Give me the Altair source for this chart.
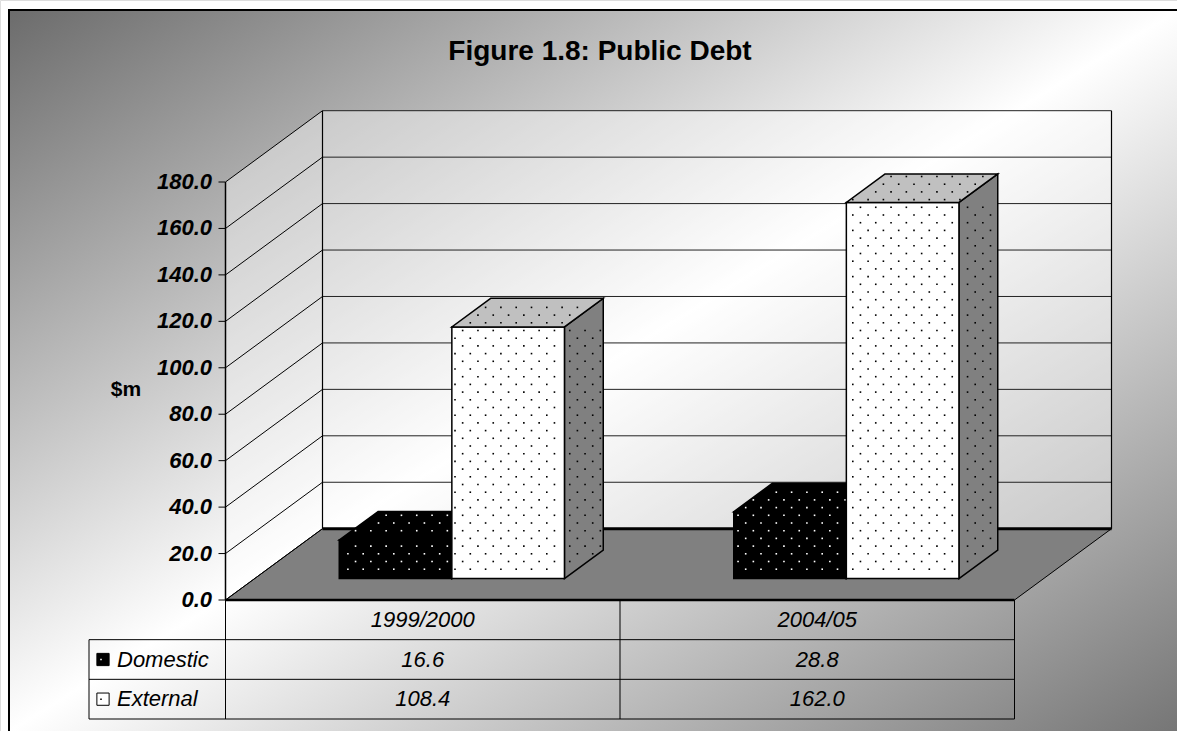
import altair as alt
import numpy as np
import pandas as pd

# ---------------- data ----------------
categories = ["1999/2000", "2004/05"]
series_names = ["Domestic", "External"]
domestic = [16.6, 28.8]
external = [108.4, 162.0]
y_ticks = [0, 20, 40, 60, 80, 100, 120, 140, 160, 180]
chart_title = "Figure 1.8: Public Debt"
y_title = "$m"

FONT = "Liberation Sans"

# ---------------- layout / style ----------------
W, H = 1177, 731
XPX = (225.5, 1014.5)          # pixel span of the front plane (2 category units)
YPX = (600, 182)               # pixel span of 0..180 on the front plane
UX = (XPX[1] - XPX[0]) / 2     # px per category unit
UY = (YPX[0] - YPX[1]) / 180   # px per value unit
DX = 97 / UX                   # depth of the 3-D box, x units
DY = 71.3 / UY                 # depth of the 3-D box, value units
F0, F1 = 0.30, 0.70            # front / back of the bars as share of the depth
BW = 112.6 / UX                # bar width in category units
LEG_LEFT = (89 - XPX[0]) / UX  # left edge of the data-table legend column
SX, SY = 7.65 / UX, 7.7 / UY   # spacing of the dotted fill pattern
INSET_X, INSET_Y = 2.5 / UX, 2.5 / UY

XS = alt.Scale(domain=[0, 2], range=list(XPX), nice=False, zero=False)
YS = alt.Scale(domain=[0, 180], range=list(YPX), nice=False, zero=False)
TS = alt.Scale(domain=[0, 3], range=[600, 719], nice=False, zero=False)

# ---------------- derived tables ----------------
values = {"Domestic": domestic, "External": external}
ddx, ddy = (F1 - F0) * DX, (F1 - F0) * DY


def lattice(xmin, xmax, ymin, ymax):
    a0, a1 = int(np.floor(xmin / SX)), int(np.ceil(xmax / SX))
    b0, b1 = int(np.floor(ymin / SY)), int(np.ceil(ymax / SY))
    return [(a * SX, b * SY) for a in range(a0, a1 + 1)
            for b in range(b0, b1 + 1) if (a + b) % 2 == 0]


front, top, side, dots = [], [], [], []
for i, cat in enumerate(categories):
    for k, s in enumerate(series_names):
        v = values[s][i]
        bid = f"{s} {cat}"
        x0 = i + 0.5 + F0 * DX + (k - 1) * BW
        x1 = x0 + BW
        y0 = F0 * DY
        front.append(dict(id=bid, series=s, x0=x0, x1=x1, y0=y0, y1=y0 + v))
        top.append(dict(id=bid, series=s, y=y0 + v, xa=x0, xb=x1))
        top.append(dict(id=bid, series=s, y=y0 + v + ddy, xa=x0 + ddx, xb=x1 + ddx))
        side.append(dict(id=bid, series=s, x=x1, ya=y0, yb=y0 + v))
        side.append(dict(id=bid, series=s, x=x1 + ddx, ya=y0 + ddy, yb=y0 + v + ddy))
        # dotted pattern (screen aligned), clipped to the visible faces
        for (px, py) in lattice(x0, x1 + ddx, y0, y0 + v + ddy):
            inside = False
            if x0 + INSET_X <= px <= x1 - INSET_X and y0 + INSET_Y <= py <= y0 + v - INSET_Y:
                inside = True
            elif y0 + v + INSET_Y <= py <= y0 + v + ddy - INSET_Y:
                t = (py - y0 - v) / ddy
                if x0 + t * ddx + INSET_X <= px <= x1 + t * ddx - INSET_X:
                    inside = True
            elif x1 + INSET_X <= px <= x1 + ddx - INSET_X:
                t = (px - x1) / ddx
                if y0 + t * ddy + INSET_Y <= py <= y0 + v + t * ddy - INSET_Y:
                    inside = True
            if inside:
                dots.append(dict(series=s, x=px, y=py))
front_df, top_df, side_df = pd.DataFrame(front), pd.DataFrame(top), pd.DataFrame(side)
dots_df = pd.DataFrame(dots)

grid_df = pd.DataFrame({"v": y_ticks})
grid_df["xa"] = 0.0
grid_df["xb"] = DX
grid_df["xc"] = 2 + DX
grid_df["yb"] = grid_df["v"] + DY
grid_df["lab"] = [f"{v:.1f}" for v in y_ticks]
grid_df["tx"] = -7 / UX
grid_df["lx"] = -13.5 / UX

floor_df = pd.DataFrame({"y": [0, DY], "xa": [0, DX], "xb": [2, 2 + DX]})
side_wall_df = pd.DataFrame({"x": [0, DX], "ya": [0, DY], "yb": [180, 180 + DY]})
back_wall_df = pd.DataFrame({"xa": [DX], "xb": [2 + DX], "ya": [DY], "yb": [180 + DY]})

one = pd.DataFrame({"t": [chart_title], "yt": [y_title]})

# ---------------- background & frame ----------------
grad = alt.LinearGradient(
    gradient="linear",
    stops=[alt.GradientStop(color="#6c6c6c", offset=0),
           alt.GradientStop(color="#ffffff", offset=0.5),
           alt.GradientStop(color="#767676", offset=1)],
    x1=0, y1=0, x2=1, y2=1)
background = alt.Chart(one).mark_rect(color=grad).encode(
    x=alt.value(10), x2=alt.value(W), y=alt.value(11), y2=alt.value(H))
frame_left = alt.Chart(one).mark_rule(color="black", strokeWidth=2).encode(
    x=alt.value(9), y=alt.value(9), y2=alt.value(H))
frame_top = alt.Chart(one).mark_rule(color="black", strokeWidth=2).encode(
    x=alt.value(9), x2=alt.value(W), y=alt.value(10))

title = alt.Chart(one).mark_text(font=FONT, fontSize=28, fontWeight="bold",
                                 align="center", baseline="alphabetic", color="black").encode(
    x=alt.value(600), y=alt.value(60), text="t:N")
ytitle = alt.Chart(one).mark_text(font=FONT, fontSize=21, fontWeight="bold",
                                  align="center", baseline="middle", color="black").encode(
    x=alt.value(126), y=alt.value(390), text="yt:N")

# ---------------- 3-D box ----------------
side_wall = alt.Chart(side_wall_df).mark_area(orient="vertical", fill="white", fillOpacity=0.4).encode(
    x=alt.X("x:Q", scale=XS, axis=None),
    y=alt.Y("ya:Q", scale=YS, axis=None, stack=None), y2="yb:Q")
back_wall = alt.Chart(back_wall_df).mark_rect(fill="white", fillOpacity=0.4).encode(
    x=alt.X("xa:Q", scale=XS, axis=None), x2="xb:Q",
    y=alt.Y("ya:Q", scale=YS, axis=None), y2="yb:Q")
floor = alt.Chart(floor_df).mark_area(orient="horizontal", fill="#808080",
                                      stroke="black", strokeWidth=1).encode(
    y=alt.Y("y:Q", scale=YS, axis=None),
    x=alt.X("xa:Q", scale=XS, axis=None, stack=None), x2="xb:Q")

side_grid = alt.Chart(grid_df).mark_rule(color="black", strokeWidth=1).encode(
    x=alt.X("xa:Q", scale=XS, axis=None), x2="xb:Q",
    y=alt.Y("v:Q", scale=YS, axis=None), y2="yb:Q")
back_grid = alt.Chart(grid_df).mark_rule(color="#222222", strokeWidth=1).encode(
    x=alt.X("xb:Q", scale=XS, axis=None), x2="xc:Q",
    y=alt.Y("yb:Q", scale=YS, axis=None))
back_bottom = alt.Chart(grid_df[grid_df.v == 0]).mark_rule(color="black", strokeWidth=3).encode(
    x=alt.X("xb:Q", scale=XS, axis=None), x2="xc:Q",
    y=alt.Y("yb:Q", scale=YS, axis=None))
wall_edges = alt.Chart(pd.DataFrame({"x": [DX, 2 + DX], "ya": [DY, DY], "yb": [180 + DY, 180 + DY]})).mark_rule(
    color="black", strokeWidth=1.2).encode(
    x=alt.X("x:Q", scale=XS, axis=None),
    y=alt.Y("ya:Q", scale=YS, axis=None), y2="yb:Q")

# value axis drawn from the tick list through the value scale
axis_line = alt.Chart(pd.DataFrame({"x": [0], "ya": [0], "yb": [180]})).mark_rule(
    color="black", strokeWidth=1.5).encode(
    x=alt.X("x:Q", scale=XS, axis=None),
    y=alt.Y("ya:Q", scale=YS, axis=None), y2="yb:Q")
axis_ticks = alt.Chart(grid_df).mark_rule(color="black", strokeWidth=1).encode(
    x=alt.X("tx:Q", scale=XS, axis=None), x2="xa:Q",
    y=alt.Y("v:Q", scale=YS, axis=None))
axis_labels = alt.Chart(grid_df).mark_text(font=FONT, fontSize=22, fontWeight="bold",
                                           fontStyle="italic", align="right",
                                           baseline="middle", color="black").encode(
    x=alt.X("lx:Q", scale=XS, axis=None),
    y=alt.Y("v:Q", scale=YS, axis=None), text="lab:N")

# ---------------- bars ----------------
FILL = {"Domestic": ("#000000", "#000000", "#333333", "#ffffff"),
        "External": ("#ffffff", "#c0c0c0", "#808080", "#000000")}
bar_layers = []
for s in series_names:
    ff, tf, sf, dc = FILL[s]
    bar_layers.append(alt.Chart(side_df[side_df.series == s]).mark_area(
        orient="vertical", fill=sf, stroke="black", strokeWidth=1.5).encode(
        x=alt.X("x:Q", scale=XS, axis=None),
        y=alt.Y("ya:Q", scale=YS, axis=None, stack=None), y2="yb:Q",
        detail="id:N"))
    bar_layers.append(alt.Chart(front_df[front_df.series == s]).mark_rect(
        fill=ff, stroke="black", strokeWidth=1.5).encode(
        x=alt.X("x0:Q", scale=XS, axis=None), x2="x1:Q",
        y=alt.Y("y0:Q", scale=YS, axis=None), y2="y1:Q"))
    bar_layers.append(alt.Chart(top_df[top_df.series == s]).mark_area(
        orient="horizontal", fill=tf, stroke="black", strokeWidth=1.5).encode(
        y=alt.Y("y:Q", scale=YS, axis=None),
        x=alt.X("xa:Q", scale=XS, axis=None, stack=None), x2="xb:Q",
        detail="id:N"))
    bar_layers.append(alt.Chart(dots_df[dots_df.series == s]).mark_square(
        size=2.6, color=dc, opacity=1).encode(
        x=alt.X("x:Q", scale=XS, axis=None),
        y=alt.Y("y:Q", scale=YS, axis=None)))

# ---------------- data table ----------------
cells = []
for i, cat in enumerate(categories):
    cells.append(dict(col=i + 0.5, row=0.5, text=cat))
    cells.append(dict(col=i + 0.5, row=1.5, text=f"{domestic[i]:.1f}"))
    cells.append(dict(col=i + 0.5, row=2.5, text=f"{external[i]:.1f}"))
cells_df = pd.DataFrame(cells)
table_text = alt.Chart(cells_df).mark_text(font=FONT, fontSize=22, fontStyle="italic",
                                           align="center", baseline="middle", color="black").encode(
    x=alt.X("col:Q", scale=XS, axis=None),
    y=alt.Y("row:Q", scale=TS, axis=None), text="text:N")

leg_df = pd.DataFrame({"series": series_names, "row": [1.5, 2.5]})
leg_text = alt.Chart(leg_df).mark_text(font=FONT, fontSize=22, fontStyle="italic",
                                       align="left", baseline="middle", color="black").encode(
    x=alt.value(117), y=alt.Y("row:Q", scale=TS, axis=None), text="series:N")
leg_sym = alt.Chart(leg_df).mark_square(size=150, opacity=1, stroke="black", strokeWidth=1).encode(
    x=alt.value(103), y=alt.Y("row:Q", scale=TS, axis=None),
    fill=alt.Fill("series:N", scale=alt.Scale(domain=series_names, range=["#000000", "#ffffff"]),
                  legend=None))
leg_dot = alt.Chart(leg_df).mark_square(size=2.5, opacity=1).encode(
    x=alt.value(101), y=alt.Y("row:Q", scale=TS, axis=None),
    fill=alt.Fill("series:N", scale=alt.Scale(domain=series_names, range=["#ffffff", "#000000"]),
                  legend=None))

hl_df = pd.DataFrame({"row": [1, 2, 3], "xa": [LEG_LEFT] * 3, "xb": [2, 2, 2]})
hlines = alt.Chart(hl_df).mark_rule(color="black", strokeWidth=1).encode(
    x=alt.X("xa:Q", scale=XS, axis=None), x2="xb:Q",
    y=alt.Y("row:Q", scale=TS, axis=None))
vl_df = pd.DataFrame({"col": [0, 1, 2, LEG_LEFT], "ra": [0, 0, 0, 1], "rb": [3, 3, 3, 3]})
vlines = alt.Chart(vl_df).mark_rule(color="black", strokeWidth=1).encode(
    x=alt.X("col:Q", scale=XS, axis=None),
    y=alt.Y("ra:Q", scale=TS, axis=None), y2="rb:Q")
front_edge = alt.Chart(pd.DataFrame({"row": [0], "xa": [0], "xb": [2]})).mark_rule(
    color="black", strokeWidth=2.5).encode(
    x=alt.X("xa:Q", scale=XS, axis=None), x2="xb:Q",
    y=alt.Y("row:Q", scale=TS, axis=None))

chart = alt.layer(
    background, frame_left, frame_top, title, ytitle,
    side_wall, back_wall, floor, side_grid, back_grid, back_bottom, wall_edges,
    axis_line, axis_ticks, axis_labels,
    *bar_layers,
    hlines, vlines, front_edge, table_text, leg_sym, leg_dot, leg_text,
).resolve_scale(y="independent", fill="independent").properties(
    width=W, height=H, autosize=alt.AutoSizeParams(type="none"), padding=0,
).configure_view(stroke=None).configure(background="white")

chart.save("out.html", embed_options={"renderer": "svg", "actions": False})
